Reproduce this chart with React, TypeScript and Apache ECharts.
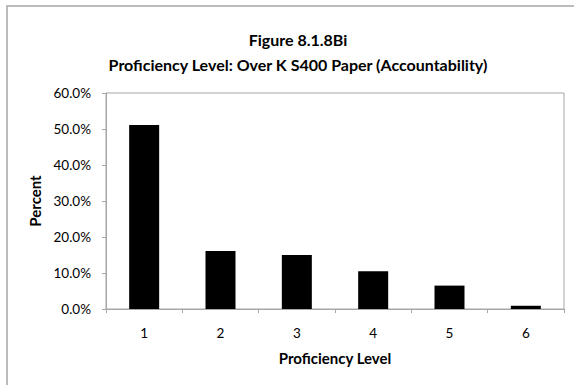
import React, { useEffect, useRef } from "react";
import * as echarts from "echarts";

const titleLines = ["Figure 8.1.8Bi", "Proficiency Level: Over K S400 Paper (Accountability)"];
const categories = ["1", "2", "3", "4", "5", "6"];
const percentValues = [51.1, 16.1, 15.0, 10.5, 6.5, 0.9];
const xAxisName = "Proficiency Level";
const yAxisName = "Percent";

export default function App() {
  const ref = useRef<HTMLDivElement>(null);
  useEffect(() => {
    if (!ref.current) return;
    const chart = echarts.init(ref.current, null, { renderer: "svg" });
    const font = "Lato, 'Open Sans', sans-serif";
    chart.setOption({
      animation: false,
      backgroundColor: "#ffffff",
      textStyle: { fontFamily: font },
      graphic: [
        {
          type: "rect",
          shape: { x: 7, y: 6, width: 620, height: 420 },
          style: { fill: "none", stroke: "#a6a6a6", lineWidth: 1.5 },
          silent: true,
        },
        {
          type: "text",
          x: 298,
          y: 39,
          style: {
            text: titleLines[0],
            font: `bold 16px ${font}`,
            fill: "#000",
            align: "center",
            verticalAlign: "middle",
          },
        },
        {
          type: "text",
          x: 298,
          y: 64,
          style: {
            text: titleLines[1],
            font: `bold 16px ${font}`,
            fill: "#000",
            align: "center",
            verticalAlign: "middle",
          },
        },
      ],
      grid: {
        left: 106,
        top: 93,
        right: 10,
        bottom: 76,
        show: true,
        borderColor: "#a6a6a6",
        borderWidth: 1,
        containLabel: false,
      },
      xAxis: {
        type: "category",
        data: categories,
        name: xAxisName,
        nameLocation: "middle",
        nameGap: 41,
        nameTextStyle: { fontWeight: "bold", fontSize: 15, color: "#000", fontFamily: font },
        axisLine: { lineStyle: { color: "#a6a6a6" } },
        axisTick: { show: true, length: 4, alignWithLabel: false, lineStyle: { color: "#a6a6a6" } },
        axisLabel: { color: "#000", fontSize: 13.5, margin: 17, fontFamily: font },
      },
      yAxis: {
        type: "value",
        min: 0,
        max: 60,
        interval: 10,
        name: yAxisName,
        nameLocation: "middle",
        nameGap: 61,
        nameRotate: 90,
        nameTextStyle: { fontWeight: "bold", fontSize: 15, color: "#000", fontFamily: font },
        axisLine: { show: true, lineStyle: { color: "#a6a6a6" } },
        axisTick: { show: true, length: 4, lineStyle: { color: "#a6a6a6" } },
        splitLine: { show: false },
        axisLabel: {
          color: "#000",
          fontSize: 13.5,
          margin: 15,
          fontFamily: font,
          formatter: (v: number) => v.toFixed(1) + "%",
        },
      },
      series: [
        {
          type: "bar",
          data: percentValues,
          barWidth: 30,
          itemStyle: { color: "#000" },
        },
      ],
    });
    return () => chart.dispose();
  }, []);
  return (
    <div
      ref={ref}
      style={{ position: "fixed", left: 0, top: 0, width: 574, height: 385 }}
    />
  );
}
